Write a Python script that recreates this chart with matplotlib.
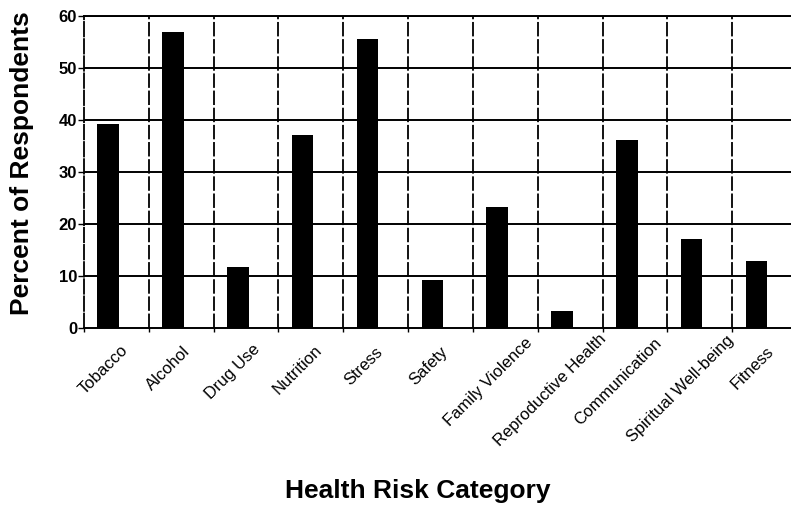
import matplotlib
matplotlib.use("Agg")
import matplotlib.pyplot as plt
import matplotlib.transforms as mtransforms
from matplotlib.font_manager import FontProperties
import numpy as np

plt.rcParams["font.family"] = ["Liberation Sans", "DejaVu Sans"]

# Health risk categories and share of respondents (%)
categories = [
    "Tobacco", "Alcohol", "Drug Use", "Nutrition", "Stress", "Safety",
    "Family Violence", "Reproductive Health", "Communication",
    "Spiritual Well-being", "Fitness",
]
percent = [39.2, 57.0, 11.8, 37.2, 55.5, 9.2, 23.3, 3.3, 36.2, 17.1, 12.9]
y_ticks = [0, 10, 20, 30, 40, 50, 60]

W, H = 791, 508
fig = plt.figure(figsize=(W / 100, H / 100), dpi=100)
# axes run a little past the right edge of the picture, as in the scan
ax = fig.add_axes([84 / W, 1 - 328 / H, 713 / W, 312 / H])

x = np.arange(len(categories))
ax.bar(x - 0.126, percent, width=0.332, color="black", zorder=3)

ax.set_xlim(-0.5, len(categories) - 0.5)
ax.set_ylim(0, 60)

# horizontal grid: solid; vertical grid at category boundaries: broken
ax.set_yticks(y_ticks)
ax.set_yticklabels([str(v) for v in y_ticks], fontsize=12, fontweight="bold")
ax.tick_params(axis="y", direction="out", length=4, width=1, pad=1)
for v in y_ticks[1:]:
    ax.axhline(v, color="black", linewidth=1.4, zorder=1)

bounds = np.arange(len(categories) + 1) - 0.5
ax.set_xticks(bounds, minor=True)
ax.set_xticks([])
ax.tick_params(axis="x", which="minor", direction="out", length=3, width=1)
for b in bounds[1:-1]:
    ax.axvline(b, color="black", linewidth=1.3, linestyle=(0, (8, 1.5)), zorder=1)

# rotated category labels; in the original the longer labels sit
# further right and higher, so nudge each one by its own length
label_font = FontProperties(family=["Liberation Sans", "DejaVu Sans"], size=12)
renderer = fig.canvas.get_renderer()
for i, cat in enumerate(categories):
    w_px, _, _ = renderer.get_text_width_height_descent(cat, label_font, ismath=False)
    dx = -2 + 0.28 * (w_px - 63)
    dy = -19.5 + 0.12 * (w_px - 63)
    off = mtransforms.ScaledTranslation(dx / 100, dy / 100, fig.dpi_scale_trans)
    ax.text(i + 0.17, 0, cat, fontproperties=label_font,
            transform=ax.get_xaxis_transform() + off,
            rotation=45, rotation_mode="anchor", ha="right", va="center",
            clip_on=False)

for side in ["top", "bottom"]:
    ax.spines[side].set_linewidth(1.4)
ax.spines["left"].set_linewidth(1.3)
ax.spines["left"].set_linestyle((0, (8, 1.5)))
ax.spines["right"].set_visible(False)

fig.text(418 / W, 1 - 491 / H, "Health Risk Category", fontsize=19,
         fontweight="bold", ha="center", va="center")
fig.text(22 / W, 1 - 163 / H, "Percent of Respondents", fontsize=19,
         fontweight="bold", ha="center", va="center", rotation=90)

fig.savefig("out.png", dpi=100)
